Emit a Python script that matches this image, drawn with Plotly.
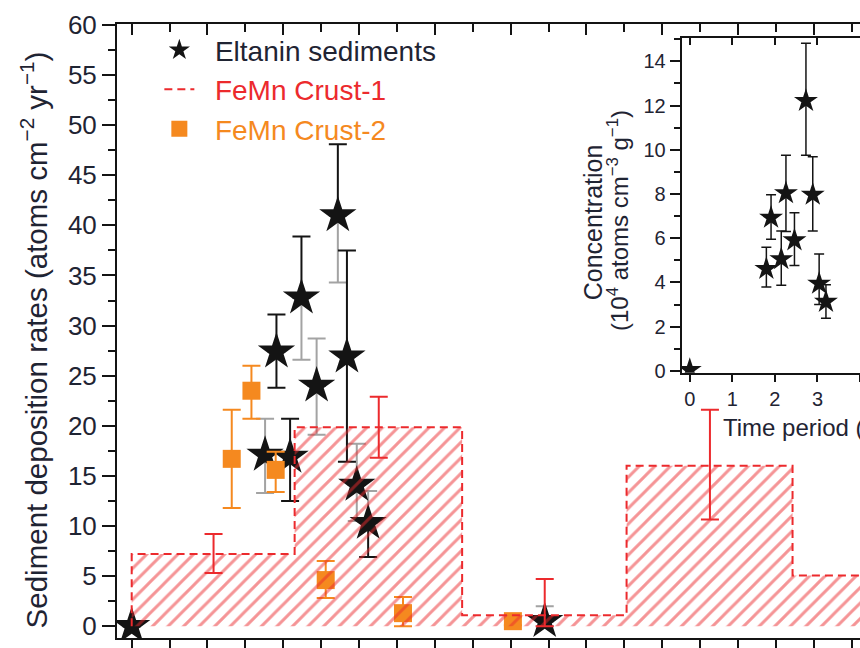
import plotly.graph_objects as go

# ---------------- data ----------------
# Eltanin sediments: time (Myr), deposition rate, upper / lower error-bar ends
elt_t = [0.0, 1.76, 1.91, 2.09, 2.24, 2.44, 2.72, 2.84, 2.97, 3.12, 5.45]
elt_rate = [0.0, 17.1, 27.4, 16.9, 32.8, 24.0, 41.0, 26.9, 14.1, 10.3, 0.5]
elt_hi = [0.0, 20.7, 31.1, 20.7, 38.9, 28.7, 48.1, 37.5, 18.2, 13.5, 2.0]
elt_lo = [0.0, 13.3, 23.8, 12.5, 26.6, 19.1, 34.3, 16.4, 10.5, 6.9, 0.0]
elt_hi_gray = [False, True, False, False, False, True, False, False, True, True, True]
elt_lo_gray = [False, True, False, False, True, True, True, False, True, False, True]

# FeMn Crust-1: time-bin edges and binned rates, plus error bars at bin centres
c1_edges = [0.0, 2.15, 4.36, 6.53, 8.72, 11.0]
c1_rate = [7.2, 19.85, 1.1, 16.0, 5.05]
c1_err_t = [1.08, 3.26, 5.45, 7.63]
c1_err_v = [7.2, 19.85, 1.1, 16.0]
c1_err_hi = [9.2, 22.9, 4.7, 21.6]
c1_err_lo = [5.3, 16.8, 0.0, 10.65]

# FeMn Crust-2
c2_t = [1.32, 1.58, 1.90, 2.56, 3.58, 5.03]
c2_rate = [16.7, 23.5, 15.6, 4.6, 1.3, 0.5]
c2_hi = [21.6, 26.0, 17.4, 6.5, 2.9, 0.9]
c2_lo = [11.8, 20.7, 13.4, 2.8, 0.0, 0.1]

# Inset: concentration (10^4 atoms cm^-3 g^-1) vs time period (Myr)
ins_t = [0.0, 1.80, 1.91, 2.15, 2.26, 2.46, 2.73, 2.89, 3.04, 3.20]
ins_c = [0.05, 4.62, 6.93, 5.06, 8.04, 5.91, 12.21, 7.97, 3.95, 3.13]
ins_hi = [0.05, 5.59, 7.97, 6.33, 9.75, 7.15, 14.82, 9.68, 5.29, 3.90]
ins_lo = [0.05, 3.80, 5.96, 3.87, 6.30, 4.77, 9.75, 6.33, 3.00, 2.38]

# ---------------- styling ----------------
FONT = "Liberation Sans, Arial, sans-serif"
TXT = "#1f2433"
BLACK = "#141414"
GRAY = "#a3a3a3"
RED = "#ec2a2d"
ORANGE = "#f5891f"

MAIN_X = [-0.194, 9.61]
MAIN_Y = [-1.18, 60.1]
INS_X = [-0.19, 4.0]
INS_Y = [-0.08, 15.06]

fig = go.Figure()


def split_err(vals, hi, lo, hi_flags, lo_flags, want):
    up = [(h - v) if f == want else 0.0 for v, h, f in zip(vals, hi, hi_flags)]
    dn = [(v - l) if f == want else 0.0 for v, l, f in zip(vals, lo, lo_flags)]
    return up, dn


# Eltanin error bars (gray and black parts)
for want, col in ((True, GRAY), (False, BLACK)):
    up, dn = split_err(elt_rate, elt_hi, elt_lo, elt_hi_gray, elt_lo_gray, want)
    fig.add_trace(go.Scatter(
        x=elt_t, y=elt_rate, mode="markers",
        marker=dict(size=1, opacity=0),
        error_y=dict(type="data", symmetric=False, array=up, arrayminus=dn,
                     color=col, thickness=2, width=9),
        showlegend=False, hoverinfo="skip"))

# Eltanin stars
fig.add_trace(go.Scatter(
    x=elt_t, y=elt_rate, mode="markers",
    marker=dict(symbol="star", size=28, color=BLACK, line=dict(width=0)),
    name="<span style='color:%s'>\u00a0\u00a0Eltanin sediments</span>" % TXT,
    legendrank=1))

# FeMn Crust-2 squares with error bars
fig.add_trace(go.Scatter(
    x=c2_t, y=c2_rate, mode="markers",
    marker=dict(symbol="square", size=18, color=ORANGE, line=dict(width=0)),
    error_y=dict(type="data", symmetric=False,
                 array=[h - v for v, h in zip(c2_rate, c2_hi)],
                 arrayminus=[v - l for v, l in zip(c2_rate, c2_lo)],
                 color=ORANGE, thickness=2, width=9),
    name="<span style='color:%s'>\u00a0\u00a0FeMn Crust-2</span>" % ORANGE,
    legendrank=3))

# FeMn Crust-1 hatched step region
fig.add_trace(go.Scatter(
    x=[c1_edges[0]] + c1_edges,
    y=[0.0] + c1_rate + [c1_rate[-1]],
    mode="lines", line=dict(shape="hv", color=RED, width=2, dash="8px,5px"),
    fill="tozeroy", fillcolor="rgba(0,0,0,0)",
    fillpattern=dict(shape="/", fgcolor=RED, bgcolor="rgba(0,0,0,0)",
                     size=11, solidity=0.27),
    showlegend=False, hoverinfo="skip"))

# legend entry for Crust-1
fig.add_trace(go.Scatter(
    x=[None], y=[None], mode="lines",
    line=dict(color=RED, width=2, dash="8px,5px"),
    name="<span style='color:%s'>\u00a0\u00a0FeMn Crust-1</span>" % RED,
    legendrank=2))

# Crust-1 error bars
fig.add_trace(go.Scatter(
    x=c1_err_t, y=c1_err_v, mode="markers",
    marker=dict(size=1, opacity=0),
    error_y=dict(type="data", symmetric=False,
                 array=[h - v for v, h in zip(c1_err_v, c1_err_hi)],
                 arrayminus=[v - l for v, l in zip(c1_err_v, c1_err_lo)],
                 color=RED, thickness=2, width=9),
    showlegend=False, hoverinfo="skip"))

# top-axis helper trace
fig.add_trace(go.Scatter(x=[None], y=[None], xaxis="x3", yaxis="y",
                         showlegend=False, hoverinfo="skip"))

# Inset
fig.add_trace(go.Scatter(
    x=ins_t, y=ins_c, mode="markers", xaxis="x2", yaxis="y2",
    marker=dict(symbol="star", size=18, color=BLACK, line=dict(width=0)),
    error_y=dict(type="data", symmetric=False,
                 array=[h - v for v, h in zip(ins_c, ins_hi)],
                 arrayminus=[v - l for v, l in zip(ins_c, ins_lo)],
                 color=BLACK, thickness=1.5, width=5),
    showlegend=False, hoverinfo="skip"))
fig.add_trace(go.Scatter(x=[None], y=[None], xaxis="x4", yaxis="y2",
                         showlegend=False, hoverinfo="skip"))

INS_DX = [0.760, 1.0]
INS_DY = [0.432, 0.9775]

axis_common = dict(showline=True, linecolor=BLACK, linewidth=2, zeroline=False,
                   showgrid=False, tickcolor=BLACK, tickwidth=2)

fig.update_layout(
    width=860, height=648,
    margin=dict(l=117, r=0, t=24, b=3),
    paper_bgcolor="white", plot_bgcolor="white",
    font=dict(family=FONT, size=26, color=TXT),
    showlegend=True,
    legend=dict(x=0.057, y=0.998, xanchor="left", yanchor="top",
                bgcolor="rgba(0,0,0,0)", font=dict(size=28, family=FONT),
                traceorder="normal", itemsizing="trace"),
    xaxis=dict(range=MAIN_X, domain=[0, 1], ticks="outside", dtick=0.5, tick0=0,
               ticklen=10, showticklabels=False, **axis_common),
    xaxis3=dict(range=MAIN_X, overlaying="x", side="top", anchor="y",
                ticks="inside", dtick=1, tick0=0, ticklen=11,
                minor=dict(dtick=0.5, ticklen=8, ticks="inside", tickcolor=BLACK, tickwidth=2),
                showticklabels=False, **axis_common),
    yaxis=dict(range=MAIN_Y, domain=[0, 1], ticks="outside", dtick=5, tick0=0,
               ticklen=13,
               minor=dict(dtick=2.5, ticklen=7, ticks="outside", tickcolor=BLACK, tickwidth=2),
               tickfont=dict(size=26, color=TXT), **axis_common),
    xaxis2=dict(range=INS_X, domain=INS_DX, anchor="y2", ticks="outside",
                dtick=1, tick0=0, ticklen=7, tickfont=dict(size=20, color=TXT),
                **axis_common),
    xaxis4=dict(range=INS_X, overlaying="x2", side="top", anchor="y2",
                ticks="inside", dtick=1, tick0=0, ticklen=7,
                showticklabels=False, **axis_common),
    yaxis2=dict(range=INS_Y, domain=INS_DY, anchor="x2", ticks="outside",
                dtick=2, tick0=0, ticklen=10,
                minor=dict(dtick=1, ticklen=6, ticks="outside", tickcolor=BLACK, tickwidth=2),
                tickfont=dict(size=20, color=TXT), **axis_common),
    annotations=[
        dict(text="Sediment deposition rates (atoms cm<sup>\u22122</sup> yr<sup>\u22121</sup>)",
             xref="paper", yref="paper", x=-0.112, y=0.486, xanchor="center",
             yanchor="middle", textangle=-90, showarrow=False,
             font=dict(size=29.5, family=FONT, color=TXT)),
        dict(text="Concentration",
             xref="paper", yref="paper", x=0.6400, y=0.6763, xanchor="center",
             yanchor="middle", textangle=-90, showarrow=False,
             font=dict(size=25, family=FONT, color=TXT)),
        dict(text="(10<sup>4</sup> atoms cm<sup>\u22123</sup> g<sup>\u22121</sup>)",
             xref="paper", yref="paper", x=0.6750, y=0.680, xanchor="center",
             yanchor="middle", textangle=-90, showarrow=False,
             font=dict(size=24, family=FONT, color=TXT)),
        dict(text="Time period (Myr)", xref="paper", yref="paper",
             x=0.813, y=0.343, xanchor="left", yanchor="middle", showarrow=False,
             font=dict(size=24, family=FONT, color=TXT)),
    ],
)

fig.write_html("out.html")
